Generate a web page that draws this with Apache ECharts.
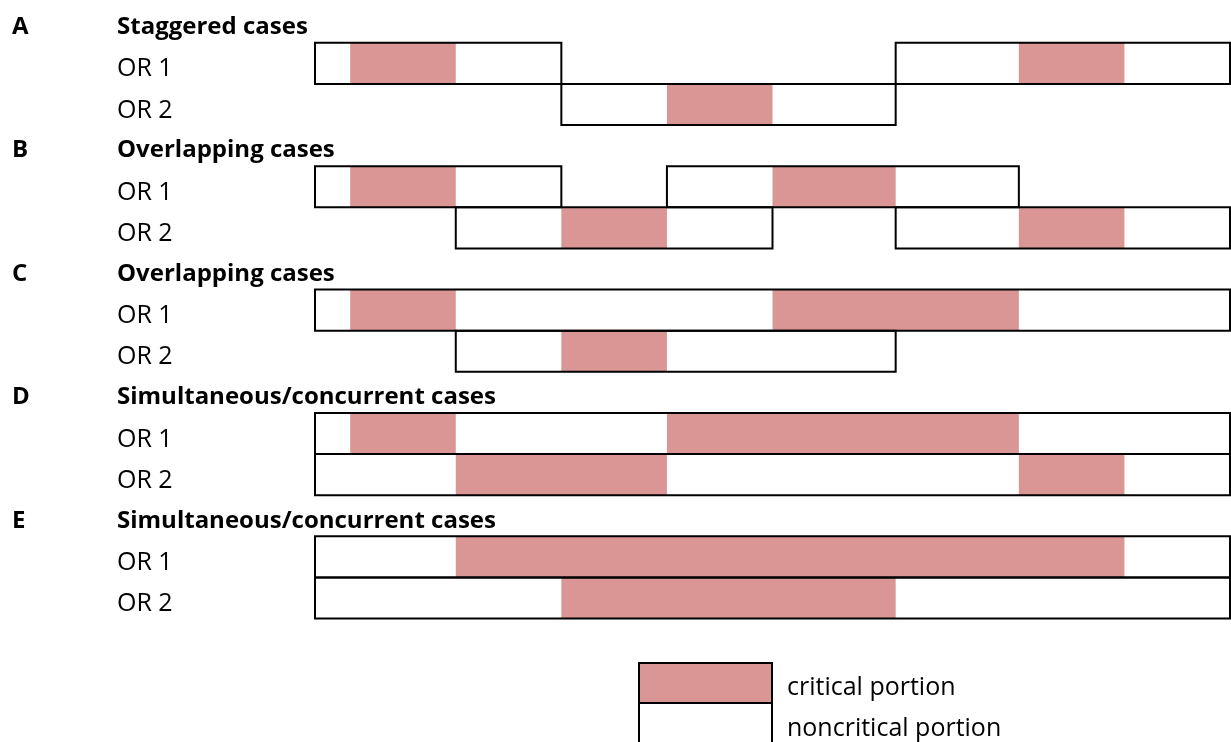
<!DOCTYPE html>
<html><head><meta charset="utf-8">
<script src="https://cdn.jsdelivr.net/npm/echarts@6/dist/echarts.min.js"></script>
<style>html,body{margin:0;padding:0;background:#fff}#c{width:1231px;height:742px}</style>
</head><body><div id="c"></div>
<script>
// ---- data ----
const sections = ['A', 'B', 'C', 'D', 'E'];
const sectionTitles = ['Staggered cases', 'Overlapping cases', 'Overlapping cases', 'Simultaneous/concurrent cases', 'Simultaneous/concurrent cases'];
const rowLabels = ['OR 1', 'OR 2'];
// occupied periods (time units) per section
const or1Boxes = [[[0, 7], [16.5, 26]], [[0, 7], [10, 20]], [[0, 26]], [[0, 26]], [[0, 26]]];
const or1Critical = [[[1, 4], [20, 23]], [[1, 4], [13, 16.5]], [[1, 4], [13, 20]], [[1, 4], [10, 20]], [[4, 23]]];
const or2Boxes = [[[7, 16.5]], [[4, 13], [16.5, 26]], [[4, 16.5]], [[0, 26]], [[0, 26]]];
const or2Critical = [[[10, 13]], [[7, 10], [20, 23]], [[7, 10]], [[4, 10], [20, 23]], [[7, 16.5]]];
const legendLabels = ['critical portion', 'noncritical portion'];
const timeMin = 0, timeMax = 26;

// ---- build ----
const PINK = '#D99694';
const FONT = '"Open Sans"';
const FS = 25;
const FSB = 24;
const critData = [], boxData = [], textData = [];
sections.forEach((s, i) => {
  const r1 = 3 * i + 1, r2 = 3 * i + 2;
  or1Critical[i].forEach(p => critData.push([p[0], p[1], r1]));
  or2Critical[i].forEach(p => critData.push([p[0], p[1], r2]));
  or1Boxes[i].forEach(p => boxData.push([p[0], p[1], r1]));
  or2Boxes[i].forEach(p => boxData.push([p[0], p[1], r2]));
  textData.push({ value: [3 * i], name: s, px: 12, bold: true });
  textData.push({ value: [3 * i], name: sectionTitles[i], px: 117, bold: true });
  textData.push({ value: [r1], name: rowLabels[0], px: 117, bold: false });
  textData.push({ value: [r2], name: rowLabels[1], px: 117, bold: false });
});

function rectShape(api) {
  const a = api.coord([api.value(0), api.value(2)]);
  const b = api.coord([api.value(1), api.value(2) + 1]);
  return { x: a[0], y: a[1], width: b[0] - a[0], height: b[1] - a[1] };
}

const chart = echarts.init(document.getElementById('c'), null, { renderer: 'canvas' });
const rowH = 41.33;
chart.setOption({
  animation: false,
  backgroundColor: '#fff',
  grid: { left: 315, top: 43 - rowH, width: 915, height: rowH * 18 },
  xAxis: { type: 'value', min: timeMin, max: timeMax, show: false },
  yAxis: { type: 'value', min: 0, max: 18, inverse: true, show: false },
  series: [
    {
      type: 'custom', data: critData, silent: true,
      renderItem: (p, api) => ({ type: 'rect', shape: rectShape(api), style: { fill: PINK } })
    },
    {
      type: 'custom', data: boxData, silent: true,
      renderItem: (p, api) => ({ type: 'rect', shape: rectShape(api), style: { fill: null, stroke: '#000', lineWidth: 2 } })
    },
    {
      type: 'custom', data: textData, silent: true,
      renderItem: (p, api) => {
        const d = textData[p.dataIndex];
        const y = api.coord([0, d.value[0] + 0.5])[1];
        return {
          type: 'text', x: d.px, y: y + (d.value[0] % 3 === 0 ? 5 : 6),
          style: { text: d.name, fill: '#000', font: (d.bold ? 'bold ' + FSB : FS) + 'px ' + FONT, textVerticalAlign: 'middle', textAlign: 'left' }
        };
      }
    }
  ],
  graphic: [
    { type: 'rect', shape: { x: 639, y: 663, width: 133, height: 40 }, style: { fill: PINK, stroke: '#000', lineWidth: 2 } },
    { type: 'rect', shape: { x: 639, y: 703, width: 133, height: 42 }, style: { fill: '#fff', stroke: '#000', lineWidth: 2 } },
    { type: 'text', x: 787, y: 688, style: { text: legendLabels[0], fill: '#000', font: FS + 'px ' + FONT, textVerticalAlign: 'middle' } },
    { type: 'text', x: 787, y: 729, style: { text: legendLabels[1], fill: '#000', font: FS + 'px ' + FONT, textVerticalAlign: 'middle' } }
  ]
});
</script></body></html>
